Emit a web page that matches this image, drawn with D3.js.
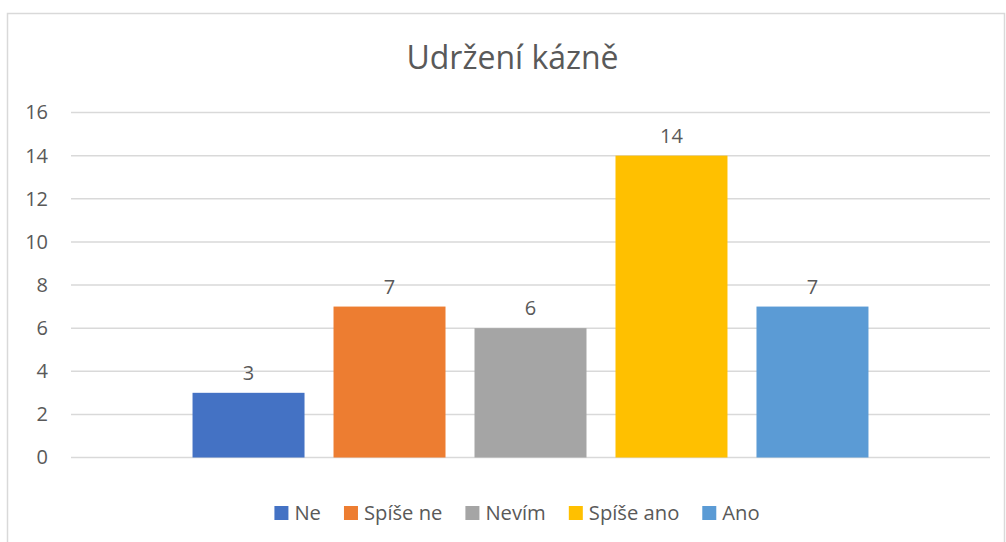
<!DOCTYPE html>
<html>
<head>
<meta charset="utf-8">
<script src="https://cdn.jsdelivr.net/npm/d3@7"></script>
<style>
  body { margin: 0; background: #fff; }
  text { font-family: "Open Sans", "Noto Sans", sans-serif; fill: #595959; }
</style>
</head>
<body>
<div id="chart"></div>
<script>
var title = "Udržení kázně";
var seriesNames = ["Ne", "Spíše ne", "Nevím", "Spíše ano", "Ano"];
var seriesValues = [3, 7, 6, 14, 7];
var seriesColors = ["#4472C4", "#ED7D31", "#A5A5A5", "#FFC000", "#5B9BD5"];
var yTicks = [0, 2, 4, 6, 8, 10, 12, 14, 16];

var width = 1006, height = 542,
    plot = {left: 71, right: 990, top: 112.5, bottom: 457.5};

var svg = d3.select("#chart").append("svg")
    .attr("width", width)
    .attr("height", height);

// chart border
svg.append("rect")
    .attr("x", 7.5).attr("y", 13.5)
    .attr("width", 997).attr("height", 540)
    .attr("fill", "white")
    .attr("stroke", "#D9D9D9")
    .attr("stroke-width", 1.5);

var yScale = d3.scaleLinear()
    .domain([0, 16])
    .range([plot.bottom, plot.top]);

var xScale = d3.scaleBand()
    .domain(seriesNames)
    .range([plot.left, plot.right])
    .paddingInner(0.2057)
    .paddingOuter(0.862);

// gridlines
svg.append("g")
    .selectAll("line")
    .data(yTicks)
    .enter().append("line")
    .attr("x1", plot.left).attr("x2", plot.right)
    .attr("y1", function (d) { return yScale(d); })
    .attr("y2", function (d) { return yScale(d); })
    .attr("stroke", "#D9D9D9")
    .attr("stroke-width", 1.5);

// y axis labels
var yAxis = d3.axisLeft(yScale).tickValues(yTicks).tickSize(0).tickPadding(0);
var yg = svg.append("g")
    .attr("transform", "translate(48,0)")
    .call(yAxis);
yg.select(".domain").remove();
yg.selectAll("text")
    .style("font-size", "20px")
    .style("font-family", "'Open Sans', 'Noto Sans', sans-serif")
    .attr("fill", "#595959");

// bars
svg.append("g")
    .selectAll("rect")
    .data(seriesValues)
    .enter().append("rect")
    .attr("x", function (d, i) { return xScale(seriesNames[i]); })
    .attr("y", function (d) { return yScale(d); })
    .attr("width", xScale.bandwidth())
    .attr("height", function (d) { return yScale(0) - yScale(d); })
    .attr("fill", function (d, i) { return seriesColors[i]; });

// data labels
svg.append("g")
    .selectAll("text")
    .data(seriesValues)
    .enter().append("text")
    .attr("x", function (d, i) { return xScale(seriesNames[i]) + xScale.bandwidth() / 2; })
    .attr("y", function (d) { return yScale(d) - 13; })
    .attr("text-anchor", "middle")
    .style("font-size", "20px")
    .text(function (d) { return d; });

// title
svg.append("text")
    .attr("x", 512.5)
    .attr("y", 69)
    .attr("text-anchor", "middle")
    .style("font-size", "32px")
    .text(title);

// legend
var legend = svg.append("g");
var items = legend.selectAll("g")
    .data(seriesNames)
    .enter().append("g");
items.append("rect")
    .attr("width", 14).attr("height", 14)
    .attr("y", 506)
    .attr("fill", function (d, i) { return seriesColors[i]; });
items.append("text")
    .attr("x", 20)
    .attr("y", 520)
    .style("font-size", "20.2px")
    .text(function (d) { return d; });

var offset = 0;
items.each(function () {
    var g = d3.select(this);
    g.attr("transform", "translate(" + offset + ",0)");
    offset += 20 + g.select("text").node().getComputedTextLength() + 23;
});
var legendWidth = offset - 23;
legend.attr("transform", "translate(" + (517 - legendWidth / 2) + ",0)");
</script>
</body>
</html>
